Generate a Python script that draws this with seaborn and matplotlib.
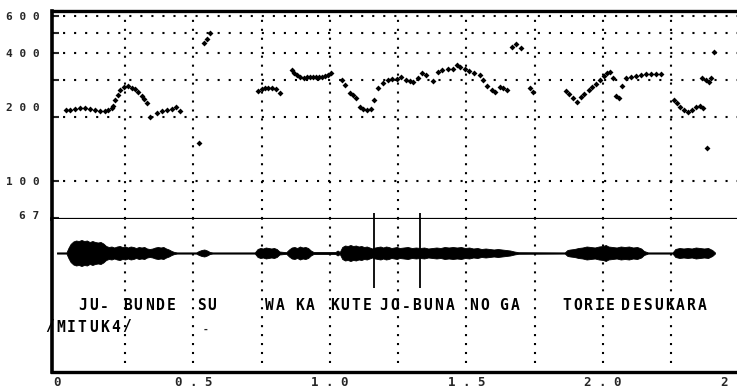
import matplotlib
matplotlib.use("Agg")
import matplotlib.pyplot as plt
import matplotlib.ticker as mticker
import matplotlib.transforms as mtransforms
import seaborn as sns

# ----------------- DATA -----------------
# pitch track: time (s) and F0 (Hz)
pitch_time = [0.033, 0.048, 0.066, 0.084, 0.102, 0.121, 0.139, 0.157, 0.176, 0.187, 0.201, 0.205,
              0.212, 0.223, 0.231, 0.245, 0.260, 0.274, 0.285, 0.296, 0.311, 0.318, 0.329, 0.340,
              0.366, 0.384, 0.402, 0.421, 0.435, 0.450,
              0.520, 0.538, 0.549, 0.560,
              0.735, 0.750, 0.761, 0.772, 0.787, 0.801, 0.816,
              0.860, 0.870, 0.881, 0.892, 0.904, 0.915, 0.926, 0.937, 0.948, 0.959, 0.970,
              0.981, 0.992, 1.003,
              1.043, 1.054, 1.072, 1.083, 1.094, 1.109, 1.120, 1.134, 1.149, 1.160, 1.175,
              1.193, 1.211, 1.226, 1.244, 1.262, 1.277, 1.292, 1.306, 1.321, 1.336, 1.350,
              1.376, 1.394, 1.412, 1.431, 1.449, 1.464, 1.478, 1.493, 1.511, 1.529, 1.548,
              1.562, 1.577, 1.592, 1.603, 1.621, 1.635, 1.650,
              1.668, 1.683, 1.698, 1.731, 1.742,
              1.866, 1.877, 1.892, 1.906, 1.921, 1.932, 1.947, 1.961, 1.976, 1.990, 2.005,
              2.016, 2.027, 2.038, 2.049, 2.060, 2.071, 2.086, 2.104, 2.122, 2.141, 2.159,
              2.177, 2.195, 2.214,
              2.261, 2.272, 2.283, 2.298, 2.312, 2.327, 2.342, 2.356, 2.367,
              2.364, 2.378, 2.389, 2.397, 2.408, 2.382]
pitch_hz = [216, 216, 219, 221, 221, 219, 216, 214, 214, 216, 221, 226,
            241, 255, 269, 278, 281, 275, 272, 263, 252, 244, 233, 200,
            209, 214, 216, 219, 223, 214,
            151, 448, 466, 499,
            266, 272, 275, 275, 275, 272, 260,
            334, 325, 316, 311, 306, 309, 309, 309, 309, 311, 311,
            313, 316, 323,
            299, 284, 260, 255, 246, 223, 219, 216, 219, 241, 275,
            290, 299, 303, 303, 309, 299, 296, 293, 306, 323, 316,
            296, 327, 334, 338, 338, 353, 345, 338, 330, 323, 316,
            299, 281, 269, 263, 278, 275, 269,
            429, 442, 424, 275, 263,
            266, 257, 246, 236, 249, 257, 269, 278, 287, 299, 313,
            323, 327, 306, 252, 246, 281, 306, 309, 313, 316, 320,
            320, 320, 320,
            241, 233, 223, 216, 212, 216, 223, 226, 221,
            306, 299, 293, 306, 406, 143]

# waveform amplitude envelope: time (s) and half height
wave_time = [0.000, 0.035, 0.042, 0.050, 0.060, 0.070, 0.080, 0.090, 0.100, 0.110, 0.120, 0.130,
             0.140, 0.150, 0.160, 0.170, 0.180, 0.190, 0.200, 0.210, 0.220, 0.230, 0.240, 0.250,
             0.260, 0.270, 0.280, 0.290, 0.300, 0.310, 0.320, 0.330, 0.340, 0.350, 0.360, 0.370,
             0.380, 0.390, 0.400, 0.410, 0.420, 0.430, 0.440, 0.510, 0.520, 0.530, 0.540, 0.550,
             0.560, 0.570, 0.725, 0.735, 0.745, 0.755, 0.765, 0.775, 0.785, 0.795, 0.805, 0.815,
             0.840, 0.850, 0.860, 0.870, 0.880, 0.890, 0.900, 0.910, 0.920, 0.930, 0.940, 1.020,
             1.028, 1.036, 1.045, 1.055, 1.065, 1.075, 1.085, 1.095, 1.105, 1.115, 1.125, 1.135,
             1.145, 1.155, 1.165, 1.175, 1.185, 1.195, 1.205, 1.215, 1.225, 1.235, 1.245, 1.255,
             1.270, 1.285, 1.300, 1.315, 1.330, 1.345, 1.360, 1.375, 1.390, 1.405, 1.420, 1.435,
             1.450, 1.465, 1.480, 1.495, 1.510, 1.525, 1.540, 1.555, 1.570, 1.585, 1.600, 1.615,
             1.630, 1.645, 1.660, 1.675, 1.690, 1.860, 1.870, 1.880, 1.895, 1.910, 1.925, 1.940,
             1.955, 1.970, 1.985, 2.000, 2.010, 2.020, 2.035, 2.050, 2.065, 2.080, 2.095, 2.110,
             2.125, 2.140, 2.150, 2.165, 2.255, 2.265, 2.280, 2.295, 2.310, 2.325, 2.340, 2.355,
             2.370, 2.385, 2.400, 2.410]
wave_amp = [0.6, 0.6, 5, 9, 11.5, 12.5, 12, 13, 12, 12.5, 11, 12,
            11, 10.5, 11, 9.5, 7, 6, 6.5, 5.5, 6.5, 7, 6, 6.5,
            5.5, 6.5, 6, 5, 6, 5.5, 6, 4.5, 4, 4.5, 5.5, 6,
            5.5, 6, 4.5, 3.5, 2, 1, 0.6, 0.6, 2, 3, 3.5, 2.5,
            1, 0.6, 0.6, 4, 5, 4.5, 5.5, 5, 4.5, 5, 4, 1.5,
            0.8, 3.5, 5.5, 6, 5, 6.5, 5.5, 6, 5, 2.5, 1, 1,
            2.5, 1, 6, 7.5, 7, 8, 7, 7.5, 6.5, 7, 6, 6.5,
            5.5, 4.5, 5.5, 6, 6.5, 5.5, 6.5, 6, 5, 5.5, 6, 5,
            5.5, 6, 5, 5.5, 5, 5.5, 4.5, 5, 5.5, 5, 6, 5.5,
            6, 5.5, 6, 5, 5.5, 4.5, 5, 4, 4.5, 4, 3.5, 4,
            3.5, 3, 2.5, 1.5, 0.8, 0.6, 3, 3.5, 4, 5, 5.5, 6.5,
            6, 5.5, 6.5, 7, 8, 6.5, 6, 5.5, 6.5, 6, 6.5, 5.5,
            6, 4.5, 2, 0.6, 0.6, 4, 5, 4.5, 5, 4.5, 5.5, 5,
            4.5, 5, 3, 0.6]

# romanised text under the waveform
syll_start = [0.077, 0.241, 0.512, 0.761, 0.871, 0.999, 1.182, 1.511, 1.621, 1.851, 2.067]
syll_text = ["JU-", "BUNDE", "SU", "WA", "KA", "KUTE", "JO-BUNA", "NO", "GA", "TORIE", "DESUKARA"]
speaker_start = -0.044
speaker_text = "/MITUK4/"
segment_marks = [1.160, 1.328]

grid_hz = [100, 200, 300, 400, 500, 600]
label_hz = [67, 100, 200, 400, 600]
label_hz_text = ["6 7", "1 0 0", "2 0 0", "4 0 0", "6 0 0"]
grid_time = [0.25, 0.5, 0.75, 1.0, 1.25, 1.5, 1.75, 2.0, 2.25]
x_ticks = [0, 0.5, 1.0, 1.5, 2.0, 2.5]
x_labels = ["0", "0 . 5", "1 . 0", "1 . 5", "2 . 0", "2 . 5"]

# ----------------- STYLE -----------------
sns.set_style("white")
plt.rcParams['font.family'] = ['DejaVu Sans Mono', 'DejaVu Sans']
plt.rcParams['font.weight'] = 'bold'

W, H = 737, 389
fig = plt.figure(figsize=(W / 100, H / 100), dpi=100)
fig.patch.set_facecolor("white")

left, right = 52, 739.5
ax_top = fig.add_axes([left / W, 1 - 219 / H, (right - left) / W, (219 - 11) / H])
ax_bot = fig.add_axes([left / W, 1 - 372 / H, (right - left) / W, (372 - 219) / H])

xlim = (-0.018, 2.5)
dot_h = (0, (1, 4.3))
dot_v = (0, (1, 3.3))

# ----------------- PITCH PANEL -----------------
ax_top.set_yscale("log")
ax_top.set_xlim(*xlim)
ax_top.set_ylim(66.2, 634)
for hz in grid_hz:
    ax_top.axhline(hz, color="black", lw=1.5, linestyle=dot_h, zorder=1)
for t in grid_time:
    ax_top.axvline(t, color="black", lw=1.5, linestyle=dot_v, zorder=1)

sns.scatterplot(x=pitch_time, y=pitch_hz, ax=ax_top, marker="D", s=9,
                color="black", linewidth=0, zorder=3)

ax_top.yaxis.set_major_locator(mticker.FixedLocator(label_hz))
ax_top.yaxis.set_major_formatter(mticker.FixedFormatter(label_hz_text))
ax_top.yaxis.set_minor_locator(mticker.FixedLocator([300, 500]))
ax_top.yaxis.set_minor_formatter(mticker.NullFormatter())
ax_top.tick_params(axis="y", which="both", direction="in", length=5, width=1.5,
                   pad=9, labelsize=8, left=True)
ax_top.set_xticks([])
ax_top.set_xlabel("")
ax_top.set_ylabel("")
# the 200 label sits a little above its grid line in the original
lbl = ax_top.get_yticklabels()[2]
lbl.set_transform(lbl.get_transform() + mtransforms.ScaledTranslation(0, 7 / 72, fig.dpi_scale_trans))
lbl67 = ax_top.get_yticklabels()[0]
lbl67.set_transform(lbl67.get_transform() + mtransforms.ScaledTranslation(0, 2 / 72, fig.dpi_scale_trans))

ax_top.spines["right"].set_visible(False)
ax_top.spines["left"].set_linewidth(2.6)
ax_top.spines["top"].set_linewidth(2.4)
ax_top.spines["bottom"].set_linewidth(1.6)
for sp in ax_top.spines.values():
    sp.set_color("black")

# ----------------- WAVEFORM PANEL -----------------
ax_bot.set_xlim(*xlim)
ax_bot.set_ylim(-119, 34)
for t in grid_time:
    ax_bot.axvline(t, ymin=0.06, color="black", lw=1.5, linestyle=dot_v, zorder=1)

neg_amp = [-a for a in wave_amp]
ax_bot.fill_between(wave_time, neg_amp, wave_amp, color="black", linewidth=0.6, zorder=3)
ax_bot.vlines(segment_marks, -35, 40, color="black", lw=1.3, clip_on=False, zorder=4)

char_step = 0.0402
def spaced(ax, t0, y, word, size=10.5):
    for i, ch in enumerate(word):
        ax.text(t0 + i * char_step, y, ch, fontsize=size, fontweight="bold",
                ha="left", va="center", color="black", zorder=5, clip_on=False)

for t0, word in zip(syll_start, syll_text):
    spaced(ax_bot, t0, -53, word)
spaced(ax_bot, speaker_start, -74, speaker_text)
ax_bot.text(0.534, -77, "-", fontsize=7, fontweight="bold", ha="left", va="center")

ax_bot.set_yticks([])
ax_bot.set_xticks(x_ticks)
ax_bot.set_xticklabels(x_labels)
ax_bot.tick_params(axis="x", length=0, pad=3, labelsize=9)
ax_bot.set_xlabel("")
ax_bot.set_ylabel("")
for side in ["top", "right"]:
    ax_bot.spines[side].set_visible(False)
ax_bot.spines["left"].set_linewidth(2.6)
ax_bot.spines["bottom"].set_linewidth(2.4)
for sp in ax_bot.spines.values():
    sp.set_color("black")

fig.savefig("out.png", dpi=100, facecolor="white")
plt.close(fig)
